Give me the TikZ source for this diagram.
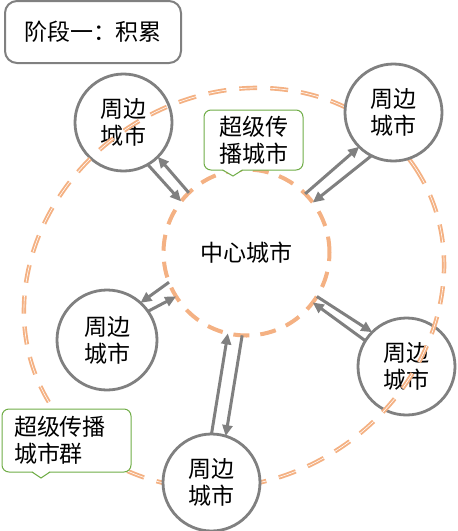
\documentclass[tikz,border=0pt]{standalone}
\usepackage{fontspec}
\newfontfamily\cjk{Noto Sans CJK SC}
\usetikzlibrary{arrows.meta}
\definecolor{cgray}{RGB}{128,128,128}
\definecolor{corange}{RGB}{244,177,131}
\definecolor{cgreen}{RGB}{112,173,71}
\begin{document}
\begin{tikzpicture}[x=1pt,y=-1pt,
  txt/.style={font=\cjk\fontsize{23pt}{27pt}\selectfont, text=black},
  city/.style={txt, circle, draw=cgray, line width=2.8pt, fill=white,
    minimum size=97pt, inner sep=0pt, outer sep=0pt, align=center},
  hub/.style={txt, circle, draw=corange, line width=4pt, fill=white,
    dash pattern=on 16pt off 11pt, minimum size=166pt, inner sep=0pt, outer sep=0pt},
  ring/.style={draw=corange, line width=1.9pt, double=white, double distance=0.6pt,
    dash pattern=on 18pt off 13pt},
  arr/.style={draw=cgray, line width=3pt, -{Triangle[length=11pt,width=10pt]}},
  callout/.style={txt, draw=cgreen, line width=1pt, fill=white, rounded corners=7pt,
    inner sep=0pt, outer sep=0pt},
  legs/.style={draw=cgreen, line width=1pt},
  titlebox/.style={txt, draw=cgray, line width=2pt, fill=white, rounded corners=12pt,
    minimum width=176pt, minimum height=62pt, inner sep=0pt}
]
\useasboundingbox (0,0) rectangle (458,531);

% cities lying under the ring
\node[city] (TL) at (123.5,122.5) {周边\\城市};
\node[city] (R) at (406.5,366.5) {周边\\城市};

% outer ring
\draw[ring, rotate around={33.5:(234,288)}] (234,288) ellipse [x radius=217.5, y radius=192];

% cities above the ring
\node[city] (TR) at (393.5,112.5) {周边\\城市};
\node[city] (B) at (211.5,482.5) {周边\\城市};
\node[city, minimum size=100pt] (L) at (107,340) {周边\\城市};

% hub
\node[hub] (C) at (246.5,252.5) {中心城市};

% callout 1
\node[callout, minimum width=99pt, minimum height=60pt, align=center] (s1) at (253.5,140) {超级传\\播城市};
\fill[white] ([xshift=-31pt,yshift=1pt]s1.south) -- ([xshift=-20.5pt,yshift=-6pt]s1.south) -- ([xshift=-11pt,yshift=1pt]s1.south) -- cycle;
\draw[legs] ([xshift=-31pt]s1.south) -- ([xshift=-20.5pt,yshift=-6pt]s1.south) -- ([xshift=-11pt]s1.south);

% callout 2
\node[callout, minimum height=63pt, text width=105pt, inner xsep=12pt, align=left] (s2) at (66.5,440.5) {超级传播\\城市群};
\fill[white] ([xshift=-34.5pt,yshift=1pt]s2.south) -- ([xshift=-25.5pt,yshift=-6pt]s2.south) -- ([xshift=-16.5pt,yshift=1pt]s2.south) -- cycle;
\draw[legs] ([xshift=-34.5pt]s2.south) -- ([xshift=-25.5pt,yshift=-6pt]s2.south) -- ([xshift=-16.5pt]s2.south);

% title
\node[titlebox] (T) at (93,32) {阶段一：积累};

% arrows
\draw[arr] (TL.-60) -- (C.142.8);
\draw[arr] (C.134.5) -- (TL.-45);
\draw[arr] (C.45.5) -- (TR.-135);
\draw[arr] (TR.-117.8) -- (C.37.6);
\draw[arr] (C.201.7) -- (L.48.3);
\draw[arr] (L.35) -- (C.212.6);
\draw[arr] (C.-32.3) -- (R.135);
\draw[arr] (R.148.6) -- (C.-37.2);
\draw[arr] (B.90.6) -- (C.-103.3);
\draw[arr] (C.-93.8) -- (B.73);
\end{tikzpicture}
\end{document}
